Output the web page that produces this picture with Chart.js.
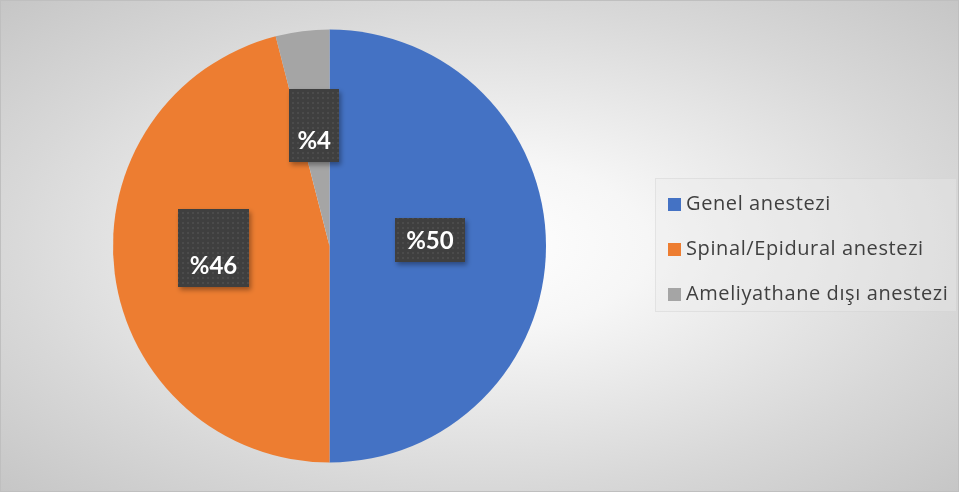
<!DOCTYPE html>
<html>
<head>
<meta charset="utf-8">
<script src="https://cdn.jsdelivr.net/npm/chart.js@4/dist/chart.umd.min.js"></script>
<style>
    html, body { margin: 0; padding: 0; background: #fff; }
    #wrap { position: relative; width: 959px; height: 496px; }
    #bg {
        position: absolute; left: 0; top: 0; width: 959px; height: 492px;
        box-sizing: border-box; border: 1px solid #bfbfbf;
        background: radial-gradient(ellipse farthest-corner at 50% 50%, #ffffff 0%, #f6f6f6 25%, #d8d8d8 70%, #c6c6c6 100%);
    }
    #chartBox { position: absolute; left: 0; top: 0; width: 959px; height: 496px; }
    #legend {
        position: absolute; left: 655px; top: 178px; width: 302px; height: 134px;
        box-sizing: border-box; border: 1px solid rgba(200,200,200,0.35);
        background: rgba(235,235,235,0.35);
        font-family: "Open Sans", Lato, sans-serif; font-size: 20px; letter-spacing: 0.6px; color: #404040;
    }
    .leg-item { position: absolute; left: 12px; height: 26px; line-height: 26px; white-space: nowrap; }
    .leg-sq { display: inline-block; width: 13px; height: 13px; margin-right: 5px; vertical-align: -1px; }
</style>
</head>
<body>
<div id="wrap">
    <div id="bg"></div>
    <div id="chartBox"><canvas id="anesthesiaPie"></canvas></div>
    <div id="legend"></div>
</div>
<script>
const categories = ['Genel anestezi', 'Spinal/Epidural anestezi', 'Ameliyathane dışı anestezi'];
const percentValues = [50, 46, 4];
const valueLabels = ['%50', '%46', '%4'];
const sliceColors = ['#4472C4', '#ED7D31', '#A5A5A5'];

//..dark dotted pattern used behind data labels
function makeDotPattern(ctx) {
    const p = document.createElement('canvas');
    p.width = 5; p.height = 5;
    const pc = p.getContext('2d');
    pc.fillStyle = '#3f3f3f';
    pc.fillRect(0, 0, 5, 5);
    pc.fillStyle = '#4b4b4b';
    pc.fillRect(2, 2, 2, 2);
    return ctx.createPattern(p, 'repeat');
}

//..label boxes, one per slice (radius fraction, y shift, box size)
const labelBoxPlugin = {
    id: 'labelBoxes',
    afterDatasetsDraw(chart, args, opts) {
        const ctx = chart.ctx;
        const meta = chart.getDatasetMeta(0);
        const pattern = makeDotPattern(ctx);
        meta.data.forEach((arc, i) => {
            const b = opts.boxes[i];
            const p = arc.getProps(['x', 'y', 'startAngle', 'endAngle', 'outerRadius'], true);
            const mid = (p.startAngle + p.endAngle) / 2;
            const r = p.outerRadius * b.f;
            const cx = p.x + Math.cos(mid) * r;
            const cy = p.y + Math.sin(mid) * r + b.dy;
            const x0 = Math.round(cx - b.w / 2);
            const y0 = Math.round(cy - b.h / 2);

            ctx.save();
            ctx.shadowColor = 'rgba(0,0,0,0.35)';
            ctx.shadowBlur = 5;
            ctx.shadowOffsetX = 2;
            ctx.shadowOffsetY = 3;
            ctx.fillStyle = pattern;
            ctx.fillRect(x0, y0, b.w, b.h);
            ctx.restore();

            ctx.save();
            ctx.fillStyle = '#ffffff';
            ctx.font = 'bold 24px Lato, "Open Sans", sans-serif';
            ctx.textAlign = 'center';
            ctx.textBaseline = 'middle';
            ctx.fillText(valueLabels[i], cx, y0 + b.h - 21);
            ctx.restore();
        });
    }
};

new Chart(document.getElementById('anesthesiaPie'), {
    type: 'pie',
    data: {
        labels: categories,
        datasets: [{
            data: percentValues,
            backgroundColor: sliceColors,
            borderWidth: 0
        }]
    },
    options: {
        responsive: true,
        maintainAspectRatio: false,
        animation: false,
        layout: {
            padding: { left: 113, right: 413, top: 29.5, bottom: 33.5 }
        },
        plugins: {
            legend: { display: false },
            tooltip: { enabled: false },
            labelBoxes: {
                boxes: [
                    { f: 0.464, dy: -6, w: 70, h: 44 },
                    { f: 0.54, dy: -13, w: 71, h: 78 },
                    { f: 0.563, dy: 0, w: 50, h: 73 }
                ]
            }
        }
    },
    plugins: [labelBoxPlugin]
});

//..html legend
const legendEl = document.getElementById('legend');
categories.forEach((name, i) => {
    const item = document.createElement('div');
    item.className = 'leg-item';
    item.style.top = (11 + i * 45) + 'px';
    item.innerHTML = `<span class="leg-sq" style="background:${sliceColors[i]}"></span>${name}`;
    legendEl.appendChild(item);
});
</script>
</body>
</html>
